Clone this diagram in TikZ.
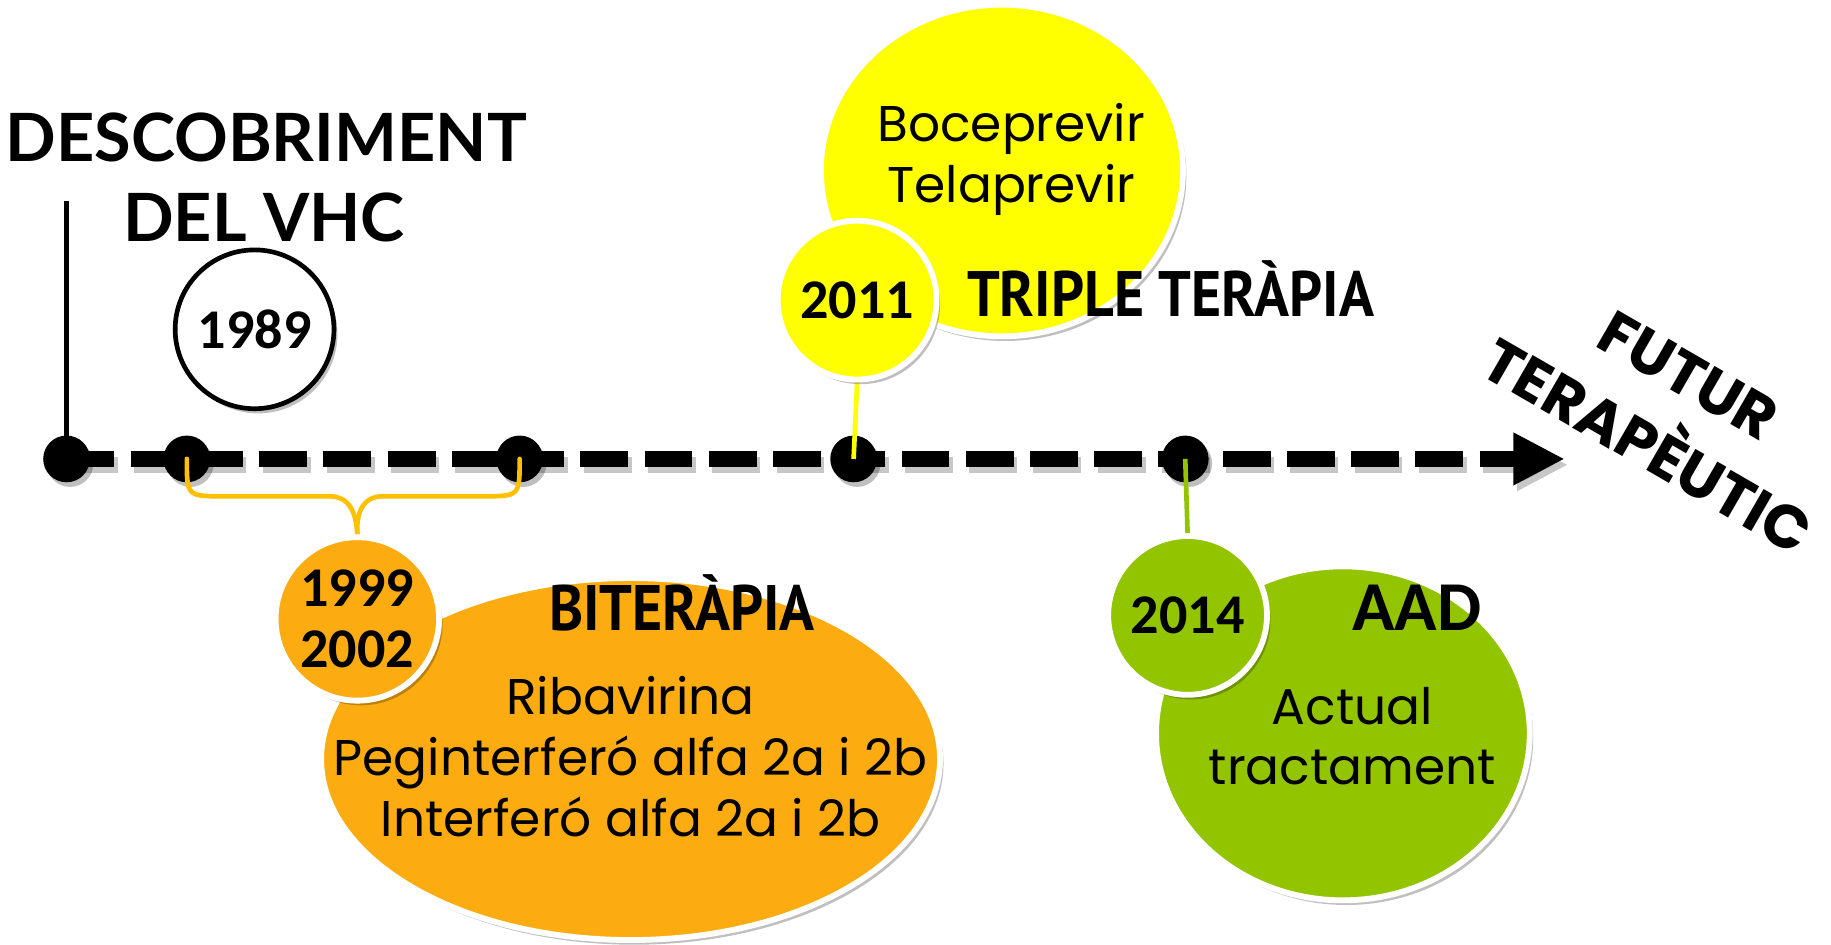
\documentclass[tikz,border=0pt]{standalone}
\usepackage{fontspec}
\setmainfont{Poppins}
\newfontfamily\yearfont{Carlito}
\newfontfamily\headfont{Lato}
\newfontfamily\condfont[FakeStretch=0.9]{PT Sans}
\usetikzlibrary{shapes.geometric,arrows.meta,shadows}
\definecolor{myyellow}{RGB}{255,255,0}
\definecolor{myorange}{RGB}{252,172,16}
\definecolor{mygold}{RGB}{255,192,0}
\definecolor{mygreen}{RGB}{147,196,0}
\pgfdeclarelayer{back}
\pgfdeclarelayer{conn}
\pgfsetlayers{back,conn,main}
\tikzset{
  shadowed/.style={drop shadow={shadow xshift=3pt,shadow yshift=-4pt,opacity=0.25,fill=black}},
  bubble/.style={ellipse, draw=white, line width=5pt, inner sep=0pt, shadowed},
  yearbubble/.style={circle, draw=white, line width=5pt, inner sep=0pt, minimum size=136pt,
     font=\yearfont\bfseries\fontsize{48}{52}\selectfont, align=center, shadowed},
  dotnode/.style={circle, fill=black, inner sep=0pt, minimum size=40pt, shadowed},
  timeline/.style={line width=14pt, dash pattern=on 41pt off 14pt, -{Triangle[length=44pt,width=42pt]}},
  bodytext/.style={font=\fontsize{43}{52}\selectfont, anchor=base, inner sep=0pt},
  headtext/.style={font=\headfont\bfseries\fontsize{57}{64}\selectfont, anchor=base, inner sep=0pt},
  condtext/.style={font=\condfont\bfseries\fontsize{55}{60}\selectfont, anchor=base west, inner sep=0pt},
  aadtext/.style={font=\yearfont\bfseries\fontsize{60}{64}\selectfont, anchor=base west, inner sep=0pt},
  futtext/.style={font=\bfseries\fontsize{52}{70}\selectfont, align=center, inner sep=0pt},
  bracestyle/.style={draw=mygold, line width=4pt, line cap=round},
}
\begin{document}
\begin{tikzpicture}[x=1pt,y=-1pt]
\useasboundingbox (0,0) rectangle (1568,809);

\coordinate (t1) at (57,393);
\coordinate (t2) at (160,393);
\coordinate (t3) at (445,393);
\coordinate (t4) at (731,393);
\coordinate (t5) at (1015,393);
\coordinate (tip) at (1340,393);
\coordinate (vtop) at (57,172);

\begin{pgfonlayer}{back}
\fill[white] (0,0) rectangle (1568,809);
\draw[line width=4pt] (t1) -- (vtop);
\draw[timeline, draw=black, opacity=0.22, transform canvas={shift={(3pt,-5pt)}}] (t1) -- (tip);
\draw[timeline] (t1) -- (tip);
\foreach \i in {1,...,5} \node[dotnode] (d\i) at (t\i) {};
\end{pgfonlayer}

% title
\node[headtext] (desc) at (228,138) {DESCOBRIMENT};
\node[headtext] (delvhc) at (226,207) {DEL VHC};
\node[yearbubble, fill=white, draw=black, line width=4pt] (c1989) at (218,282) {1989};

% triple therapy
\node[bubble, fill=myyellow, minimum width=310pt, minimum height=284pt] (bigY) at (858,146) {};
\node[bodytext] (boc) at (866,121) {Boceprevir};
\node[bodytext] (tel) at (866,173) {Telaprevir};
\node[yearbubble, fill=myyellow] (c2011) at (734,257) {2011};
\node[condtext] (triple) at (828,271) {TRIPLE TERÀPIA};

% bitherapy
\node[bubble, fill=myorange, minimum width=530pt, minimum height=310pt] (bigO) at (540,650) {};
\node[condtext] (bit) at (470,540) {BITERÀPIA};
\node[bodytext] (riba) at (540,612) {Ribavirina};
\node[bodytext] (peg) at (540,664) {Peginterferó alfa 2a i 2b};
\node[bodytext] (inter) at (540,716) {Interferó alfa 2a i 2b};
\node[yearbubble, fill=myorange, minimum size=140pt] (c9902) at (306,530) {1999\\2002};

% AAD
\node[bubble, fill=mygreen, minimum width=320pt, minimum height=286pt] (bigG) at (1150,628) {};
\node[aadtext] (aad) at (1158,540) {AAD};
\node[bodytext] (act) at (1158,620) {Actual};
\node[bodytext] (tract) at (1158,672) {tractament};
\node[yearbubble, fill=mygreen, minimum size=136pt] (c2014) at (1017,527) {2014};

% future
\node[futtext, rotate=-30] (fut) at (1428,352) {FUTUR\\TERAPÈUTIC};

\begin{pgfonlayer}{conn}
\draw[line width=4pt, myyellow] (d4.center) -- (c2011.south);
\draw[line width=4pt, mygreen] (d5.center) -- (c2014.north);
\draw[bracestyle] (d2.center) .. controls (160,425) .. (192,425) -- (282,425)
   .. controls (300,425) and (305,440) .. (c9902.north);
\draw[bracestyle] (d3.center) .. controls (445,425) .. (413,425) -- (328,425)
   .. controls (310,425) and (305,440) .. (c9902.north);
\end{pgfonlayer}
\end{tikzpicture}
\end{document}
